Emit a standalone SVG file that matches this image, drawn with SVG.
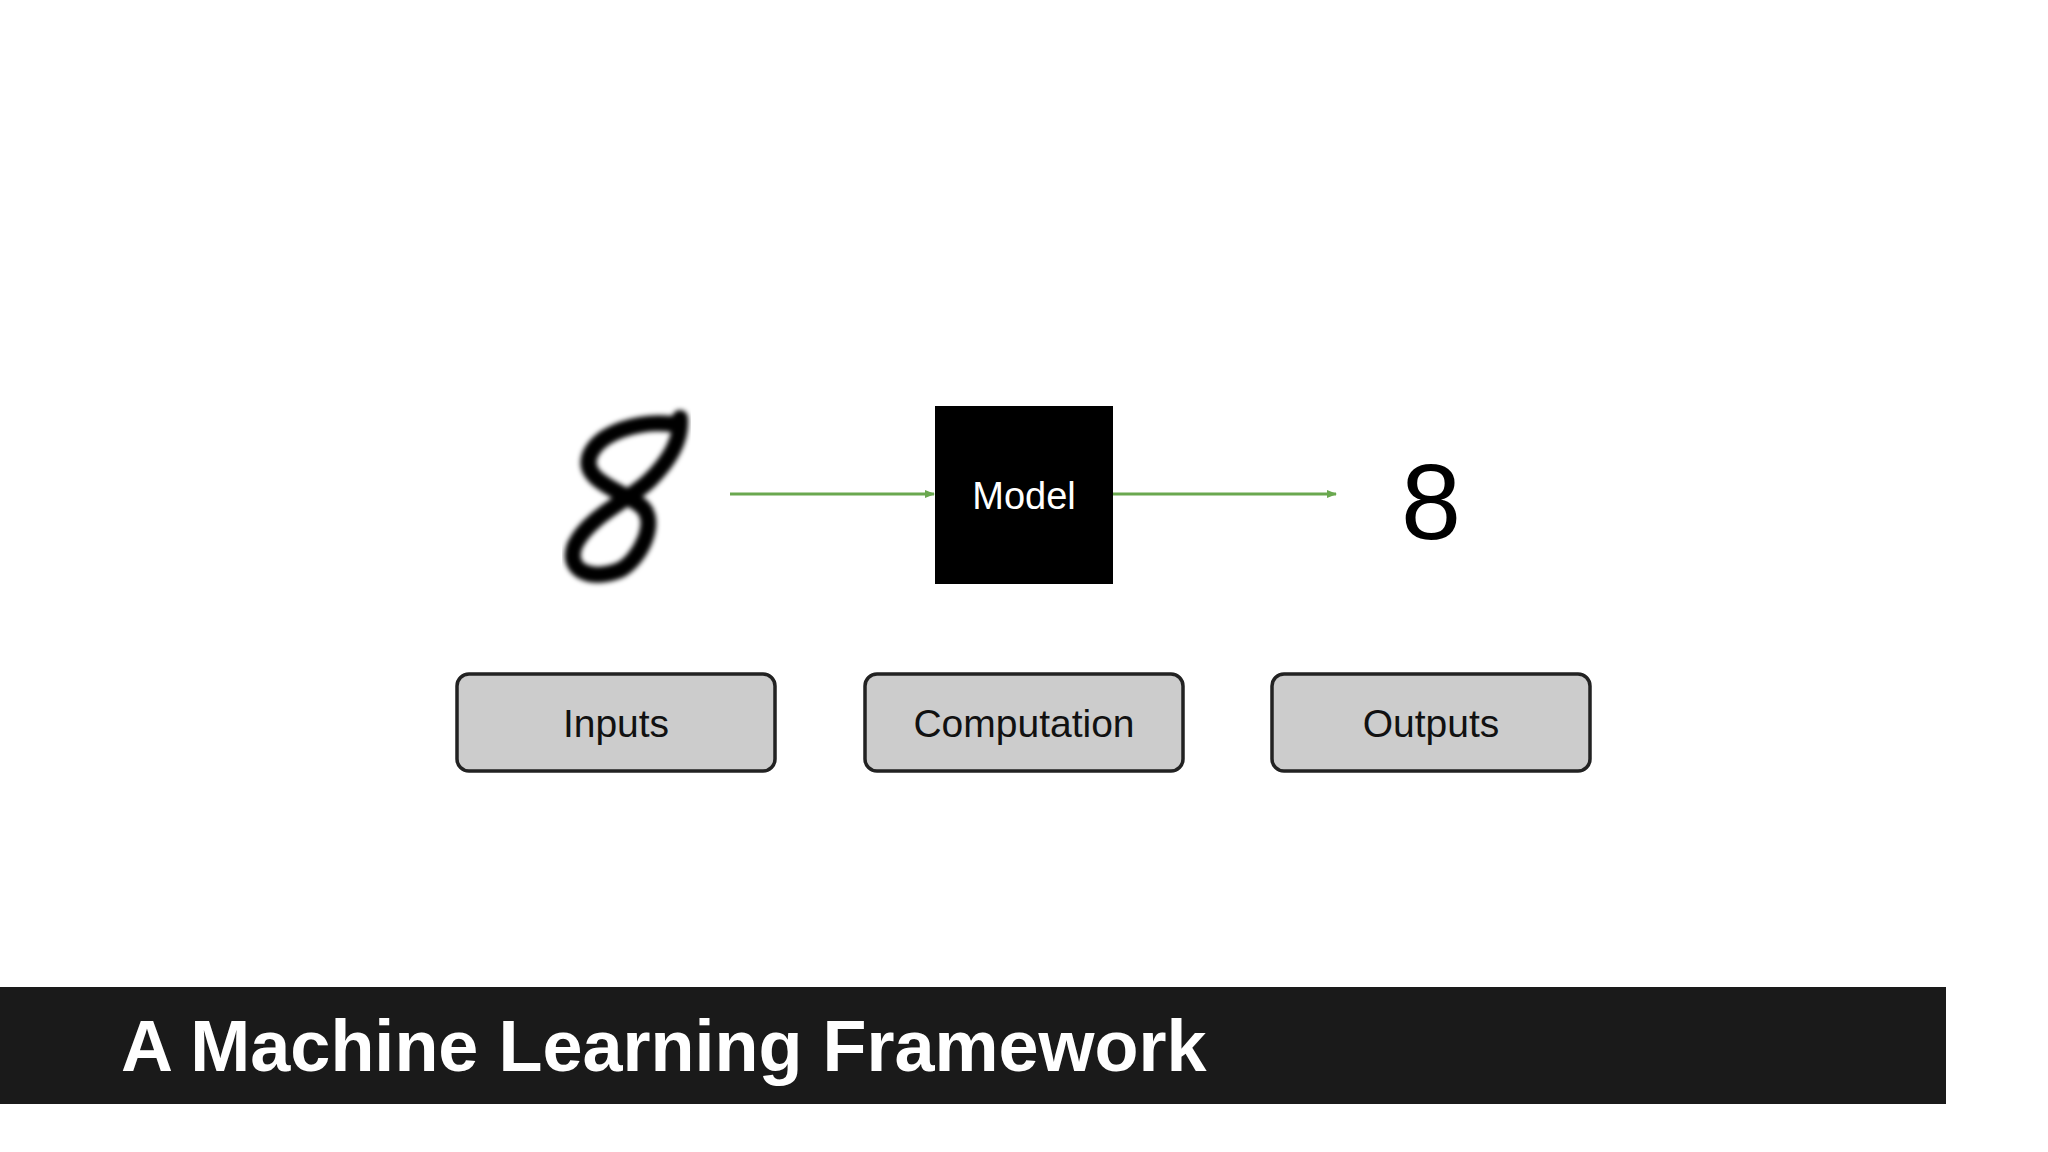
<svg xmlns="http://www.w3.org/2000/svg" width="2048" height="1152" viewBox="0 0 2048 1152">
<style>
.lbl{font-family:"Liberation Sans",Arial,sans-serif;font-size:39px;fill:#111;text-anchor:middle}
.box{fill:#cccccc;stroke:#222;stroke-width:3.5}
.conn{stroke:#6aa84f;stroke-width:3;fill:none}
</style>
<defs>
<marker id="ah" markerWidth="10" markerHeight="8" refX="9" refY="4" orient="auto" markerUnits="userSpaceOnUse" viewBox="0 0 10 8">
<path d="M0,0 L10,4 L0,8 z" fill="#6aa84f"/>
</marker>
<filter id="blur"><feGaussianBlur stdDeviation="2.5"/></filter>
</defs>
<rect width="2048" height="1152" fill="#fff"/>
<g id="input-digit" filter="url(#blur)">
<path d="M672,424 C640,420 600,432 590,455 C580,480 620,490 640,505 C660,520 640,560 620,570 C590,582 565,570 575,545 C590,515 630,500 650,480 C670,460 682,440 680,418" fill="none" stroke="#000" stroke-width="16" stroke-linecap="round"/>
</g>
<g id="connectors">
<line class="conn" x1="730" y1="494" x2="934" y2="494" marker-end="url(#ah)"/>
<line class="conn" x1="1113" y1="494" x2="1336" y2="494" marker-end="url(#ah)"/>
</g>
<g id="model">
<rect x="935" y="406" width="178" height="178" fill="#000"/>
<text x="1024" y="509" font-family="Liberation Sans,Arial,sans-serif" font-size="38" fill="#fff" text-anchor="middle">Model</text>
</g>
<g id="output-digit">
<text x="1431" y="539" font-family="Liberation Sans,Arial,sans-serif" font-size="108" fill="#000" text-anchor="middle">8</text>
</g>
<g id="inputs"><rect class="box" x="457" y="674" width="318" height="97" rx="12"/><text class="lbl" x="616" y="737">Inputs</text></g>
<g id="computation"><rect class="box" x="865" y="674" width="318" height="97" rx="12"/><text class="lbl" x="1024" y="737">Computation</text></g>
<g id="outputs"><rect class="box" x="1272" y="674" width="318" height="97" rx="12"/><text class="lbl" x="1431" y="737">Outputs</text></g>
<g id="title">
<rect x="0" y="987" width="1946" height="117" fill="#1a1a1a"/>
<text x="121" y="1071" font-family="Liberation Sans,Arial,sans-serif" font-size="72" font-weight="bold" fill="#fff">A Machine Learning Framework</text>
</g>
</svg>
